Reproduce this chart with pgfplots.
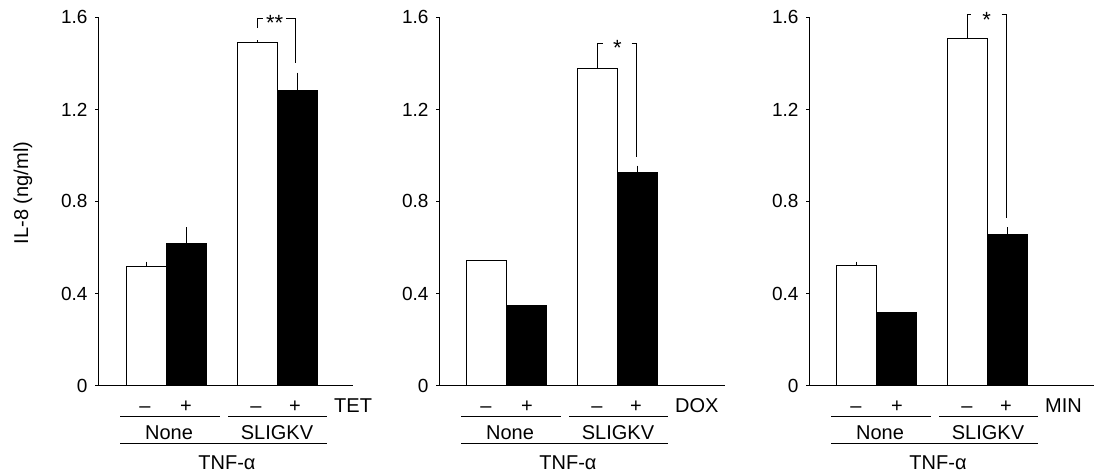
\documentclass[border=0pt]{standalone}
\usepackage{pgfplots}
\pgfplotsset{compat=1.18}
\usepackage{fontspec}
\setmainfont{Liberation Sans}

\pgfplotsset{
  panel/.style={
    scale only axis, height=368.3pt, ymin=0, ymax=1.6, xmin=0,
    anchor=south west,
    axis x line=bottom, axis y line=left,
    axis line style={-, line width=0.8pt, black},
    xtick=\empty, ytick={0,0.4,0.8,1.2,1.6},
    yticklabels={0,0.4,0.8,1.2,1.6},
    tick align=outside, major tick length=3pt,
    tick style={line width=0.8pt, black},
    yticklabel style={font=\fontsize{19}{19}\selectfont, xshift=-4pt},
    /pgf/number format/assume math mode=true,
    clip=false,
  },
  whitebar/.style={ybar, bar width=40pt, bar shift=0pt, fill=white, draw=black, line width=1pt,
    error bars/.cd, y dir=plus, y explicit, error mark=none,
    error bar style={line width=1pt, black}},
  blackbar/.style={ybar, bar width=40pt, bar shift=0pt, fill=black, draw=black, line width=1pt,
    error bars/.cd, y dir=plus, y explicit, error mark=none,
    error bar style={line width=1pt, black}},
}

\newcommand{\lbl}{\fontsize{20}{20}\selectfont}
\newcommand{\starfont}{\fontsize{22}{22}\selectfont}
\newcommand{\belowlabels}[1]{%
  \node[anchor=base, font=\lbl] at ([yshift=-27pt]axis cs:47,0) {\textendash};
  \node[anchor=base, font=\lbl] at ([yshift=-27pt]axis cs:88,0) {+};
  \node[anchor=base, font=\lbl] at ([yshift=-27pt]axis cs:158,0) {\textendash};
  \node[anchor=base, font=\lbl] at ([yshift=-27pt]axis cs:197,0) {+};
  \node[anchor=base west, font=\lbl, inner sep=0pt] at ([yshift=-27pt]axis cs:236,0) {#1};
  \draw[line width=0.8pt] ([yshift=-30.4pt]axis cs:22,0) -- ([yshift=-30.4pt]axis cs:122,0);
  \draw[line width=0.8pt] ([yshift=-30.4pt]axis cs:130,0) -- ([yshift=-30.4pt]axis cs:229,0);
  \node[anchor=base, font=\lbl] at ([yshift=-53.7pt]axis cs:71,0) {None};
  \node[anchor=base, font=\lbl] at ([yshift=-53.7pt]axis cs:179,0) {SLIGKV};
  \draw[line width=0.8pt] ([yshift=-57.7pt]axis cs:22,0) -- ([yshift=-57.7pt]axis cs:229,0);
  \node[anchor=base, font=\lbl] at ([yshift=-84pt]axis cs:129,0) {TNF-α};
}

\begin{document}
\begin{tikzpicture}
\useasboundingbox (0,0) rectangle (1094pt,476pt);

% Panel 1: TET
\begin{axis}[panel, at={(98pt,90.4pt)}, width=255pt, xmax=255,
  ylabel={IL-8 (ng/ml)},
  ylabel style={font=\fontsize{20}{20}\selectfont, at={([xshift=-75pt]axis description cs:0,0.523)}, anchor=center}]
\addplot[whitebar] coordinates {(48,0.517) +- (0,0.022) (159,1.491) +- (0,0.010)};
\addplot[blackbar] coordinates {(88,0.619) +- (0,0.068) (199,1.282) +- (0,0.078)};
\draw[line width=0.8pt] (axis cs:159,1.553) -- (axis cs:159,1.597) -- (axis cs:165.3,1.597);
\draw[line width=0.8pt] (axis cs:188,1.597) -- (axis cs:197,1.597) -- (axis cs:197,1.401);
\node[anchor=base, font=\starfont, inner sep=0pt] at ([yshift=-12.5pt]axis cs:176.7,1.597) {**};
\belowlabels{TET}
\end{axis}

% Panel 2: DOX
\begin{axis}[panel, at={(439pt,90.4pt)}, width=286pt, xmax=286]
\addplot[whitebar] coordinates {(47,0.542) +- (0,0) (158,1.379) +- (0,0.012)};
\addplot[blackbar] coordinates {(87,0.346) +- (0,0) (198,0.927) +- (0,0.029)};
\draw[line width=0.8pt] (axis cs:158,1.391) -- (axis cs:158,1.488) -- (axis cs:164.3,1.488);
\draw[line width=0.8pt] (axis cs:192.7,1.488) -- (axis cs:197.7,1.488) -- (axis cs:197.7,0.995);
\node[anchor=base, font=\starfont, inner sep=0pt] at ([yshift=-12.5pt]axis cs:178.3,1.488) {*};
\belowlabels{DOX}
\end{axis}

% Panel 3: MIN
\begin{axis}[panel, at={(809pt,90.4pt)}, width=285pt, xmax=285]
\addplot[whitebar] coordinates {(47,0.520) +- (0,0.019) (158,1.506) +- (0,0.014)};
\addplot[blackbar] coordinates {(87,0.319) +- (0,0) (198,0.655) +- (0,0.032)};
\draw[line width=0.8pt] (axis cs:158,1.52) -- (axis cs:158,1.611) -- (axis cs:161.7,1.611);
\draw[line width=0.8pt] (axis cs:192.7,1.611) -- (axis cs:197,1.611) -- (axis cs:197,0.727);
\node[anchor=base, font=\starfont, inner sep=0pt] at ([yshift=-12.5pt]axis cs:177.7,1.611) {*};
\belowlabels{MIN}
\end{axis}
\end{tikzpicture}
\end{document}
